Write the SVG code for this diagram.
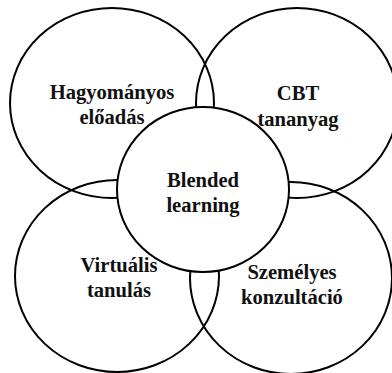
<svg xmlns="http://www.w3.org/2000/svg" width="392" height="373" viewBox="0 0 392 373">
  <style>
    .ring { fill: none; stroke: #000; stroke-width: 2; }
    .hub { fill: #fff; stroke: #000; stroke-width: 2; }
    .label { font-family: "Liberation Serif", "Times New Roman", serif; font-size: 20.6px; font-weight: bold; fill: #111; text-anchor: middle; }
  </style>
  <rect width="392" height="373" fill="#fff"/>
  <g id="connectors"/>
  <g id="node-hagyomanyos">
    <ellipse class="ring" cx="112" cy="103" rx="102" ry="95"/>
  </g>
  <g id="node-cbt">
    <ellipse class="ring" cx="297" cy="103" rx="101" ry="95"/>
  </g>
  <g id="node-virtualis">
    <ellipse class="ring" cx="117" cy="276" rx="102" ry="96"/>
  </g>
  <g id="node-szemelyes">
    <ellipse class="ring" cx="291" cy="278" rx="101" ry="96"/>
  </g>
  <g id="node-blended">
    <ellipse class="hub" cx="203" cy="189.5" rx="86" ry="82.5"/>
  </g>
  <g id="labels">
    <text class="label" x="112" y="99">Hagyományos</text>
    <text class="label" x="112" y="124">előadás</text>
    <text class="label" x="298" y="100">CBT</text>
    <text class="label" x="298" y="126">tananyag</text>
    <text class="label" x="203" y="187">Blended</text>
    <text class="label" x="203" y="212">learning</text>
    <text class="label" x="119" y="272">Virtuális</text>
    <text class="label" x="119" y="297">tanulás</text>
    <text class="label" x="292" y="279">Személyes</text>
    <text class="label" x="292" y="304">konzultáció</text>
  </g>
</svg>
